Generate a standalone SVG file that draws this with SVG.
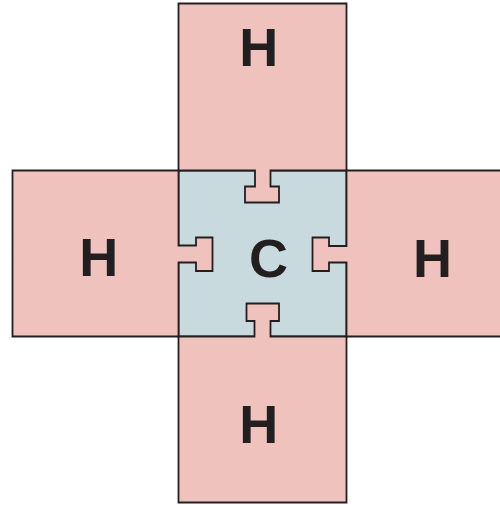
<svg xmlns="http://www.w3.org/2000/svg" width="500" height="505" viewBox="0 0 500 505">
<style>
.h{fill:#efc2be;stroke:#231f20;stroke-width:1.8;stroke-linejoin:miter}
.c{fill:#c9dadf;stroke:#231f20;stroke-width:1.8}
.t{font-family:"Liberation Sans",Arial,sans-serif;font-weight:bold;font-size:54px;fill:#231f20;text-anchor:middle}
</style>
<rect width="500" height="505" fill="#ffffff"/>
<g id="C">
<rect class="c" x="178.5" y="170.5" width="168" height="166"/>
<text class="t" x="268.5" y="276.5">C</text>
</g>
<g id="H-top">
<path class="h" d="M178.5,3.5 H346.5 V170.5 H270.5 V186.5 H279 V202.5 H245 V186.5 H255 V170.5 H178.5 Z"/>
<text class="t" x="258.8" y="66">H</text>
</g>
<g id="H-left">
<path class="h" d="M12.5,170.5 H178.5 V245.5 H196 V237.5 H212.5 V271 H196 V262.5 H178.5 V336.5 H12.5 Z"/>
<text class="t" x="98.8" y="276.3">H</text>
</g>
<g id="H-right">
<path class="h" d="M346.5,170.5 H510 V336.5 H346.5 V262.5 H329 V271 H312.5 V237.5 H329 V246 H346.5 Z"/>
<text class="t" x="432.5" y="276.5">H</text>
</g>
<g id="H-bottom">
<path class="h" d="M178.5,336.5 H254.5 V321 H246.5 V303.5 H279 V321 H270.5 V336.5 H346.5 V502.5 H178.5 Z"/>
<text class="t" x="258.8" y="442.5">H</text>
</g>
</svg>
